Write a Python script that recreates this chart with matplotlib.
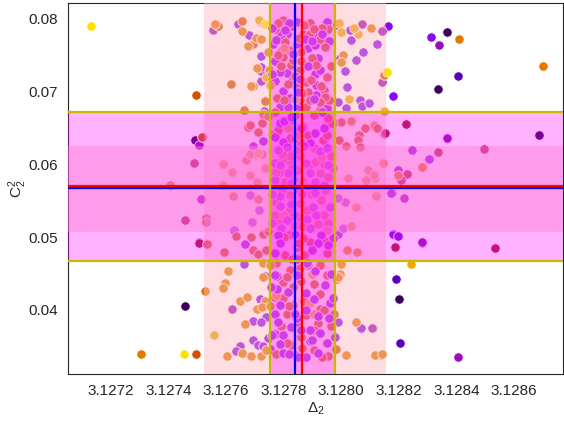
import matplotlib
matplotlib.use("Agg")
import matplotlib.pyplot as plt
import seaborn as sns

# (Delta_2 - 3.127) * 1e6 , C_2^2 * 1e4
dark = [(457,405),(1200,415),(1366,782),(1686,641),(491,634),(1335,704)]
indigo = [(1404,722),(1204,355),(1190,442)]
purple = [(1163,791),(1313,775),(1180,504),(1179,694),(1281,492),(1196,501),(505,493),
          (642,793),(723,796),(678,778),(723,749),(723,728),(721,734),(721,715),(688,708),(732,673),
          (986,792),(1032,785),(1033,771),(1126,765),(1076,755),(1053,744),(995,747),(1012,729),(1020,707),
          (989,686),(1016,678),(1067,688),(1072,680),(1097,684),(1247,620),(1306,608),(1198,592),(1175,561),
          (692,625),(729,632),(665,490),(691,521),(629,510),(735,446),(663,463),(717,415),(648,350),(633,344),
          (692,359),(711,352),(729,351),(740,390),(694,385),(723,384),(752,346),(746,361),(1012,548),(989,554),
          (989,384),(1070,375),(1108,375),(1109,375),(683,558),(715,538),(1174,561),(989,505),(1006,512),
          (848,796),(949,796),(790,779),(812,780),(916,779),(958,770),(885,760),(796,758),(770,742),(920,746),
          (810,726),(769,715),(908,725),(914,709),(798,701),(821,691),(912,695),(789,679),(816,679),(949,677),
          (764,766),(845,766),(926,730),(787,727),(833,716),(850,679),(798,771),(908,764),(775,771)]
magenta = [(1338,764),(1367,636),(507,627),(513,553),(1280,493),(553,785),(1140,783),(1071,793),(1142,713),
           (1219,554),(1107,375),(1407,335),(619,401)]
crimson = [(507,492),(1496,621),(1186,487),(1534,485),(487,602),(535,491),(458,524),(530,526),(1150,642),
           (1227,587),(1207,579),(1336,617),(1224,656),(517,638),(1151,643)]
rust = [(497,696),(518,638),(1148,723),(497,340),(573,791),(657,797),(694,765),(618,710),(694,708),(737,687),
        (661,675),(677,652),(683,654),(726,657),(1115,654),(1123,650),(1001,658),(972,657),(1082,650),(1119,653),
        (1125,650),(1062,640),(1060,634),(991,633),(1018,626),(1064,624),(671,606),(683,614),(700,615),(725,614),
        (711,644),(625,557),(711,552),(532,521),(633,501),(688,500),(729,505),(534,491),(593,479),(694,483),
        (711,477),(740,483),(746,508),(798,798),(769,786),(891,794),(868,780),(893,780),(954,786),(928,772),
        (819,757),(798,748),(897,746),(963,736),(856,730),(949,720),(939,702),(845,707),(777,692),(883,700),
        (958,689),(856,689),(879,679),(926,675),(827,737),(862,755),(877,714),(816,711),(943,693),(891,689),
        (833,744),(819,659),(821,637),(868,652),(966,657),(937,634),(845,645),(810,618),(856,611),(966,611),
        (798,608),(827,602),(908,604),(787,590),(845,592),(926,588),(804,576),(833,579),(868,576),(954,583),
        (972,595),(821,611),(862,629),(821,558),(931,551),(856,547),(821,537),(769,531),(856,528),(839,515),
        (954,519),(821,505),(891,494),(868,499),(804,476),(845,487),(949,478),(821,455),(856,457),(885,462),
        (798,439),(798,417),(833,432),(926,422),(986,442),(926,401),(833,407),(812,395),(879,393),(920,382),
        (862,363),(827,352),(839,338),(954,337),(983,346),
        # denser core
        (780,794),(826,790),(870,792),(935,788),(806,768),(852,774),(905,786),(942,762),(780,750),(860,742),
        (912,737),(790,735),(838,722),(895,716),(930,708),(800,688),(865,698),(925,686),(770,672),(838,668),
        (905,668),(955,664),(780,648),(838,636),(885,640),(950,640),(795,615),(845,620),(905,622),(775,590),
        (830,595),(885,597),(940,600),(795,565),(850,566),(895,560),(945,565),(775,548),(835,530),(880,538),
        (940,530),(785,520),(865,515),(920,518),(800,500),(855,492),(940,495),(775,465),(830,470),(870,475),
        (925,462),(810,445),(860,440),(905,436),(950,448),(770,418),(820,405),(870,412),(940,400),(790,378),
        (850,380),(905,372),(965,378),(810,355),(865,348),(905,345),(775,340),(935,335),(975,395)]
orange = [(406,572),(526,426),(304,340),(1701,735),(1410,772),(1280,596),(1120,558),(1196,585),(1137,338),(1116,338),
          (561,793),(677,763),(703,774),(723,772),(706,733),(748,730),(688,708),(729,670),(746,755),(1006,751),
          (998,741),(1105,787),(735,793),(656,784),(590,600),(621,590),(683,585),(706,576),(588,572),(746,666),
          (1035,660),(1022,582),(1087,579),(1093,592),(1116,581),(1145,602),(1113,585),(735,595),(683,614),
          (1050,541),(1122,557),(1033,515),(1056,480),(1020,483),(607,453),(596,437),(590,430),(648,412),(673,418),
          (735,412),(706,401),(725,404),(752,405),(665,380),(654,341),(688,337),(720,337),(604,337),(740,345),
          (1053,384),(1119,338),(1140,339),(1018,338),(1001,463),(997,450),(989,445),(729,464),(729,445),(752,462)]
amber = [(715,798),(1059,779),(1045,788),(993,794),(1001,782),(738,720),(752,709),(1148,673),(1026,690),(1244,463),
         (559,366),(711,616),(800,760),(850,640),(930,610),(900,450),(816,650),(775,420),(905,395),(760,640),
         (880,570),(800,530),(950,510),(840,690),(890,410)]
yellow = [(131,791),(455,339),(1158,727),(735,793)]
# the purple points that lie over the others in the core
purple_top = [(787,657),(769,638),(798,631),(939,650),(891,629),(908,643),(781,620),(926,618),(769,602),(879,602),
              (954,599),(816,588),(891,588),(769,579),(908,576),(787,599),(812,624),(949,622),(787,557),(908,561),
              (787,543),(902,542),(960,542),(810,524),(914,531),(792,512),(891,512),(781,503),(931,503),(972,499),
              (787,492),(920,492),(769,478),(897,482),(954,489),(777,447),(908,454),(845,448),(769,448),(777,429),
              (879,423),(960,410),(943,434),(972,417),(879,400),(787,407),(769,395),(781,384),(920,391),(845,389),
              (958,389),(891,373),(769,367),(798,366),(926,368),(978,363),(787,353),(891,357),(949,354),(879,335),
              (798,341),(920,341),(827,376),(760,788),(818,795),(875,772),(935,780),(832,752),(885,735),(760,725),
              (850,700),(935,672),(800,660),(860,650),(825,575),(865,560),(940,572),(758,560),(838,505),(880,465),
              (755,432),(840,395),(900,358),(760,365),(850,335),(805,785),(898,770),(858,718),(905,690),(825,665),
              (870,625),(825,545),(880,525),(845,470),(815,425),(905,415),(860,372),(820,340),(965,450),(760,520)]

levels = [(dark,.06),(indigo,.13),(purple,.3),(magenta,.37),(crimson,.46),(rust,.68),(orange,.78),(amber,.87),(yellow,.96),(purple_top,.3)]

# limits of the bands and lines, same units as above
x_outer = (525,1155)
x_inner = (752,978)
x_blue = 840
x_red = 864
y_outer = (467.4,672.2)
y_inner = (507,625.4)
y_blue = 567
y_red = 569.8

xticks = [3.1272,3.1274,3.1276,3.1278,3.1280,3.1282,3.1284,3.1286]
yticks = [0.04,0.05,0.06,0.07,0.08]

def X(v):
    return 3.127+v*1e-6
def Y(v):
    return v*1e-4

sns.set_style("white")
plt.rcParams['font.family'] = ['Liberation Sans','DejaVu Sans']
plt.rcParams['mathtext.default'] = 'regular'

fig,ax = plt.subplots(figsize=(5.64,4.23),dpi=100)
fig.subplots_adjust(left=0.1206,right=0.998,top=0.993,bottom=0.116)

cmap = plt.get_cmap('gnuplot')
for pts,c in levels:
    ax.scatter([X(p[0]) for p in pts],[Y(p[1]) for p in pts],color=cmap(c),s=46,edgecolor='white',linewidth=0.6,zorder=2)

ax.axvspan(X(x_outer[0]),X(x_outer[1]),color='lightpink',alpha=.45,lw=0,zorder=3)
ax.axhspan(Y(y_inner[0]),Y(y_inner[1]),color='lightpink',alpha=.45,lw=0,zorder=3)
ax.axvspan(X(x_inner[0]),X(x_inner[1]),color='magenta',alpha=.3,lw=0,zorder=3)
ax.axhspan(Y(y_outer[0]),Y(y_outer[1]),color='magenta',alpha=.3,lw=0,zorder=3)

ax.axhline(Y(y_blue),color='blue',lw=1.6,zorder=4)
ax.axvline(X(x_blue),color='blue',lw=1.6,zorder=4)
ax.axhline(Y(y_red),color='red',lw=1.6,zorder=5)
ax.axvline(X(x_red),color='red',lw=1.6,zorder=5)
for v in x_inner:
    ax.axvline(X(v),color='#c8b900',lw=1.6,zorder=6)
for v in y_outer:
    ax.axhline(Y(v),color='#c8b900',lw=1.6,zorder=6)

ax.set_xlim(3.127051,3.12877)
ax.set_ylim(0.0312,0.0822)
ax.set_xticks(xticks)
ax.set_xticklabels(['%.4f'%t for t in xticks])
ax.set_yticks(yticks)
ax.set_yticklabels(['%.2f'%t for t in yticks])
ax.tick_params(labelsize=11,colors='.15')
ax.set_xlabel(r'$\Delta_2$',fontsize=11,labelpad=2)
ax.set_ylabel(r'$C_2^2$',fontsize=11,labelpad=0)

fig.savefig('out.png',dpi=100)
